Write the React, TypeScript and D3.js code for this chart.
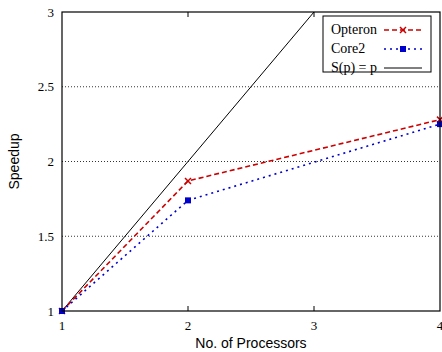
import React from 'react';
import * as d3 from 'd3';

const processors = [1, 2, 4];
const opteron = [1, 1.87, 2.28];
const core2 = [1, 1.74, 2.25];
const ideal = [1, 4];
const xTicks = [1, 2, 3, 4];
const yTicks = [1, 1.5, 2, 2.5, 3];
const legendNames = ['Opteron', 'Core2', 'S(p) = p'];

const width = 442;
const height = 352;
const margin = { top: 12, right: 2, bottom: 41, left: 62 };
const serif = "'Liberation Serif', 'Times New Roman', serif";
const sans = "'Liberation Sans', Arial, sans-serif";

export default function App() {
  const innerWidth = width - margin.left - margin.right;
  const innerHeight = height - margin.top - margin.bottom;

  const x = d3.scaleLinear().domain([1, 4]).range([0, innerWidth]);
  const y = d3.scaleLinear().domain([1, 3]).range([innerHeight, 0]);

  const line = d3.line<[number, number]>().x(d => x(d[0])).y(d => y(d[1]));
  const opPts = processors.map((p, i) => [p, opteron[i]] as [number, number]);
  const c2Pts = processors.map((p, i) => [p, core2[i]] as [number, number]);
  const idealPts = ideal.map(p => [p, p] as [number, number]);

  const red = '#cc0000';
  const blue = '#0000cc';

  const Cross = ({ cx, cy }: { cx: number; cy: number }) => (
    <g stroke={red} strokeWidth={1.5}>
      <line x1={cx - 3} y1={cy - 3} x2={cx + 3} y2={cy + 3} />
      <line x1={cx - 3} y1={cy + 3} x2={cx + 3} y2={cy - 3} />
    </g>
  );
  const Square = ({ cx, cy }: { cx: number; cy: number }) => (
    <rect x={cx - 3} y={cy - 3} width={6} height={6} fill={blue} />
  );

  const lx = 323, ly = 16;

  return (
    <svg width={width} height={height} style={{ position: 'absolute', left: 0, top: 0 }}>
      <rect width={width} height={height} fill="white" />
      <defs>
        <clipPath id="plot">
          <rect x={0} y={0} width={innerWidth} height={innerHeight} />
        </clipPath>
      </defs>
      <g transform={`translate(${margin.left},${margin.top})`}>
        {yTicks.slice(1, -1).map(t => (
          <line key={t} x1={0} x2={innerWidth} y1={y(t)} y2={y(t)} stroke="#000" strokeWidth={0.8} strokeDasharray="1,2" />
        ))}
        {xTicks.slice(1, -1).map(t => (
          <g key={t}>
            <line x1={x(t)} x2={x(t)} y1={innerHeight} y2={innerHeight - 5} stroke="#000" />
            <line x1={x(t)} x2={x(t)} y1={0} y2={5} stroke="#000" />
          </g>
        ))}
        <g clipPath="url(#plot)">
          <path d={line(idealPts) || ''} fill="none" stroke="#000" strokeWidth={1} />
        </g>
        <path d={line(opPts) || ''} fill="none" stroke={red} strokeWidth={1.6} strokeDasharray="5,3" />
        <path d={line(c2Pts) || ''} fill="none" stroke={blue} strokeWidth={1.6} strokeDasharray="2,4" />
        {opPts.map((d, i) => <Cross key={i} cx={x(d[0])} cy={y(d[1])} />)}
        {c2Pts.map((d, i) => <Square key={i} cx={x(d[0])} cy={y(d[1])} />)}
        <rect x={0} y={0} width={innerWidth} height={innerHeight} fill="none" stroke="#000" strokeWidth={1.2} />
        {xTicks.map(t => (
          <text key={t} x={x(t)} y={innerHeight + 19} textAnchor="middle" style={{ fontFamily: serif }} fontSize={13}>{t}</text>
        ))}
        {yTicks.map(t => (
          <text key={t} x={-8} y={y(t)} dy="0.35em" textAnchor="end" style={{ fontFamily: serif }} fontSize={13}>{t}</text>
        ))}
      </g>
      <g>
        <rect x={lx} y={ly} width={108} height={56} fill="white" stroke="#000" strokeWidth={1} />
        {legendNames.map((n, i) => {
          const yy = ly + 14 + i * 19;
          return (
            <g key={n}>
              <text x={lx + 8} y={yy + 4} style={{ fontFamily: serif }} fontSize={14}>{n}</text>
              {i === 0 && <>
                <line x1={lx + 61} x2={lx + 99} y1={yy} y2={yy} stroke={red} strokeWidth={1.6} strokeDasharray="5,3" />
                <Cross cx={lx + 80} cy={yy} />
              </>}
              {i === 1 && <>
                <line x1={lx + 61} x2={lx + 99} y1={yy} y2={yy} stroke={blue} strokeWidth={1.6} strokeDasharray="2,4" />
                <Square cx={lx + 80} cy={yy} />
              </>}
              {i === 2 && <line x1={lx + 61} x2={lx + 99} y1={yy} y2={yy} stroke="#000" strokeWidth={1} />}
            </g>
          );
        })}
      </g>
      <text transform={`translate(19,${margin.top + innerHeight / 2}) rotate(-90)`} textAnchor="middle" style={{ fontFamily: sans }} fontSize={14}>Speedup</text>
      <text x={margin.left + innerWidth / 2} y={348} textAnchor="middle" style={{ fontFamily: sans }} fontSize={14}>No. of Processors</text>
    </svg>
  );
}
